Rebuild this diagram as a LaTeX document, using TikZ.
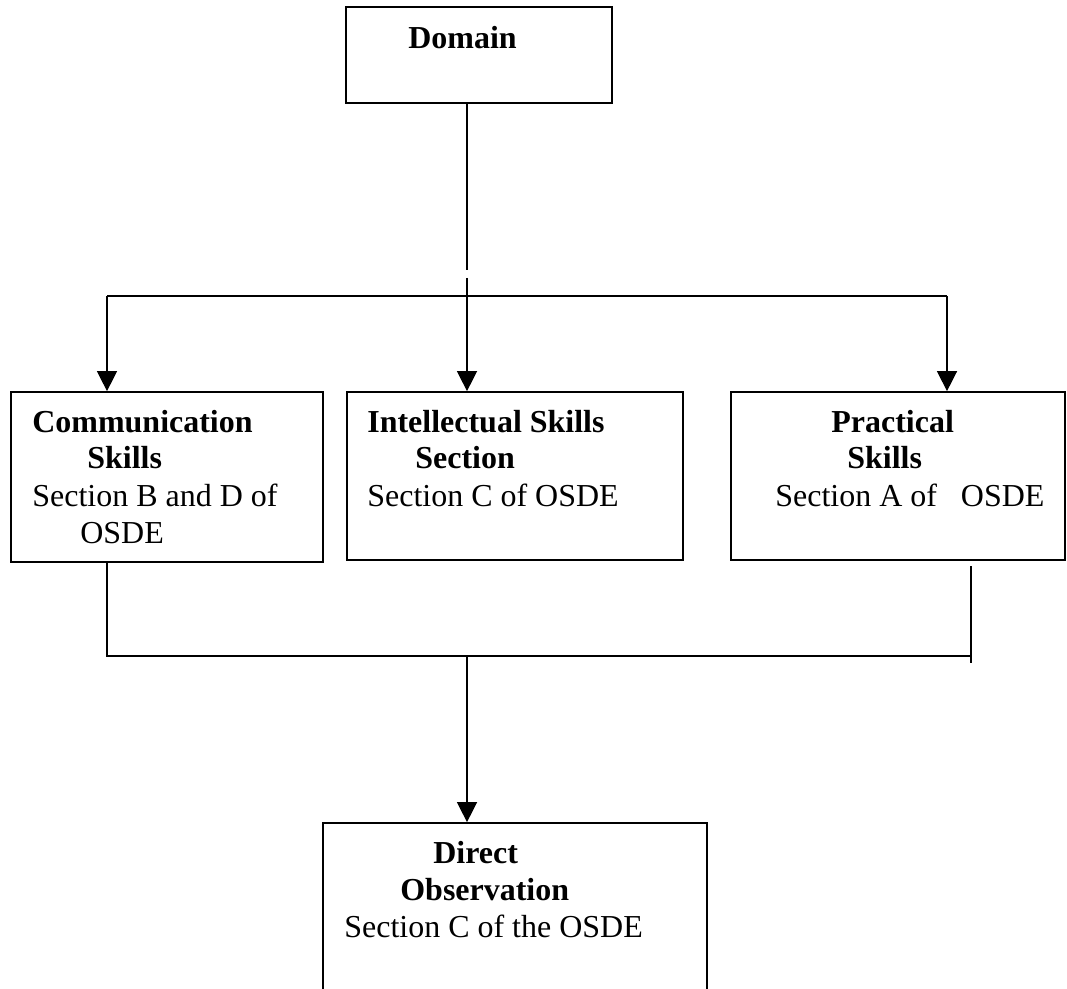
\documentclass[tikz,border=0pt]{standalone}
\usepackage{fontspec}
\setmainfont{Liberation Serif}
\usetikzlibrary{arrows.meta, positioning, calc}
\tikzset{
  box/.style={draw=black, line width=1pt, rectangle, inner sep=0pt},
  link/.style={draw=black, line width=0.8pt},
  arr/.style={link, -{Triangle[length=0.4cm, width=0.4cm]}},
  lbl/.style={anchor=base west, inner sep=0pt, font=\fontsize{18.2}{21}\selectfont},
  lblb/.style={lbl, font=\fontsize{18.2}{21}\selectfont\bfseries}
}

\begin{document}
\begin{tikzpicture}[x=0.02cm, y=-0.02cm]
\useasboundingbox (0,0) rectangle (1067,989);
\clip (0,0) rectangle (1067,989);

% ── Boxes ────────────────────────────────────────────────────────────────────
\node[box, minimum width=5.32cm, minimum height=1.92cm] (dom)  at (479,55)    {};
\node[box, minimum width=6.24cm, minimum height=3.40cm] (comm) at (167,477)   {};
\node[box, minimum width=6.72cm, minimum height=3.36cm] (inte) at (515,476)   {};
\node[box, minimum width=6.68cm, minimum height=3.36cm] (prac) at (898,476)   {};
\node[box, minimum width=7.68cm, minimum height=3.74cm] (dobs) at (515,916.5) {};

% ── Texts ────────────────────────────────────────────────────────────────────
\foreach \nm/\px/\py/\txt in {dom/408/49/Domain,
                              comA/32/432/Communication, comB/87/468/Skills,
                              intA/367/432/Intellectual Skills, intB/415/468/Section,
                              praA/831/432/Practical, praB/847/468/Skills,
                              dobA/433/863/Direct, dobB/400/900/Observation} {
  \node[lblb] (t-\nm) at (\px,\py) {\txt};
}
\foreach \nm/\px/\py/\txt in {comC/32/506/Section B and D of, comD/80/543/OSDE,
                              intC/367/506/Section C of OSDE,
                              praC/775/506/Section A of\hspace{0.48cm}OSDE,
                              dobC/344/937/Section C of the OSDE} {
  \node[lbl] (t-\nm) at (\px,\py) {\txt};
}

% ── Split from Domain ────────────────────────────────────────────────────────
\coordinate (gapA)   at (467,270);
\coordinate (gapB)   at (467,278);
\coordinate (lsplit) at (107,296);
\coordinate (rsplit) at (947,296);
\draw[link] (dom.south -| gapA) -- (gapA);
\draw[arr] (gapB) -- (gapB |- inte.north);
\draw[link] (lsplit) -- (rsplit);
\draw[arr] (lsplit) -- (lsplit |- comm.north);
\draw[arr] (rsplit) -- (rsplit |- prac.north);

% ── Join to Direct Observation ───────────────────────────────────────────────
\coordinate (ljoin) at (107,656);
\coordinate (rjoin) at (971,656);
\coordinate (mjoin) at (467,656);
\coordinate (rtop)  at (971,566);
\coordinate (rbot)  at (971,663);
\draw[link] (ljoin |- comm.south) -- (ljoin) -- (rjoin);
\draw[link] (rtop) -- (rbot);
\draw[arr] (mjoin) -- (mjoin |- dobs.north);

\end{tikzpicture}
\end{document}
